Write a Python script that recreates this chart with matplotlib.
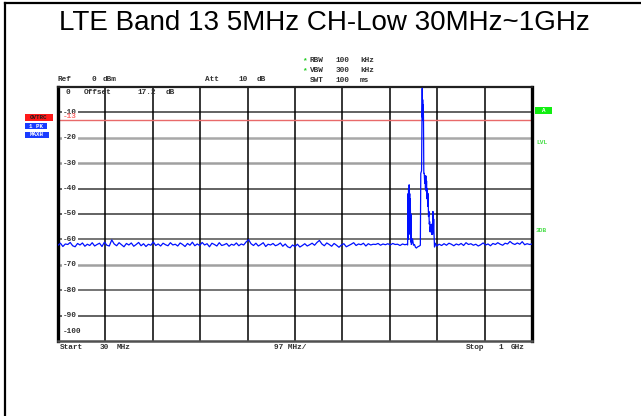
import numpy as np
import matplotlib
matplotlib.use('Agg')
import matplotlib.pyplot as plt
from matplotlib.lines import Line2D
from matplotlib.patches import Rectangle

W, H = 641, 416

title = 'LTE Band 13 5MHz CH-Low 30MHz~1GHz'
f_start, f_stop = 30, 1000          # MHz
ref_level, range_db = 0, -100       # dBm
display_line = -13                  # dBm (red limit line)
db_ticks = [-10, -20, -30, -40, -50, -60, -70, -80, -90]

# noise floor below the emission, 30..740 MHz, 5 MHz per point
noise_lo_db = [
    -62.3, -61.5, -62.8, -61.8, -62.0, -61.2, -62.5, -62.9, -61.6, -62.2, -61.4, -62.7, -61.9, -62.4, -61.3,
    -62.6, -62.0, -61.5, -62.8, -61.1, -62.3, -62.6, -60.2, -61.8, -62.5, -61.3, -62.1, -62.9, -61.6, -62.2,
    -61.4, -62.7, -62.0, -61.2, -62.5, -61.7, -62.8, -61.9, -62.3, -61.0, -62.4, -61.8, -62.6, -61.5, -62.1,
    -62.5, -61.3, -62.2, -61.9, -62.6, -61.4, -62.0, -62.8, -61.6, -62.3, -61.1, -62.5, -61.8, -62.4, -61.2,
    -62.2, -61.7, -62.9, -61.5, -62.0, -62.6, -61.3, -62.4, -62.1, -61.6, -62.7, -61.9, -62.3, -61.4, -62.5,
    -61.8, -62.2, -61.0, -60.1, -61.7, -62.4, -61.5, -62.6, -62.0, -61.3, -62.8, -61.9, -62.2, -61.6, -62.5,
    -62.1, -61.4, -62.7, -61.8, -62.9, -63.3, -62.2, -62.8, -61.9, -63.0, -62.4, -61.7, -62.6, -62.1, -61.5,
    -62.3, -61.2, -60.4, -61.8, -62.5, -61.4, -62.0, -62.7, -61.6, -62.3, -63.1, -62.2, -61.7, -62.9, -62.4,
    -61.9, -61.3, -62.4, -61.8, -62.1, -61.5, -62.6, -61.7, -62.2, -61.9, -62.0, -61.6, -62.3, -61.8, -62.1,
    -61.7, -62.2, -61.6, -62.0, -61.9, -62.4, -61.8, -62.1,
]
noise_lo_start, noise_lo_stop = 30, 740

# noise floor above the emission, 805..1000 MHz
noise_hi_db = [
    -62.6, -61.9, -62.4, -61.7, -62.3, -61.5, -61.9, -62.5, -61.8, -62.2,
    -61.6, -62.4, -61.3, -62.0, -61.7, -62.3, -61.9, -62.6, -62.1, -61.4,
    -62.2, -61.8, -62.5, -61.6, -62.0, -61.3, -61.9, -62.3, -61.5, -61.8,
    -60.8, -61.6, -62.0, -61.4, -61.9, -60.9, -62.1, -61.7, -62.0, -61.8,
]
noise_hi_start, noise_hi_stop = 805, 1000

# emission region, read point by point
peak_mhz = [743.5, 745.5, 746.4, 746.9, 747.4, 748.0, 748.6, 749.2, 749.8, 750.4,
            751.0, 751.6, 752.4, 753.0, 754.0, 755.5, 757.5, 759.5, 761.5, 763.5,
            765.5, 767.5, 769.5, 771.5, 772.4, 774.0, 775.3, 775.8, 776.3, 776.8,
            777.3, 777.9, 778.6, 779.5, 780.5, 781.3, 782.0, 782.8, 783.5, 784.2,
            785.0, 785.8, 786.6, 787.4, 788.2, 789.0, 789.8, 790.6, 791.4, 792.2,
            793.0, 793.8, 794.6, 795.5, 796.5, 797.3, 798.0, 798.8, 799.5, 800.5,
            802.0]
peak_db = [-61.9, -62.2, -42.0, -60.0, -40.0, -56.0, -38.5, -45.0, -42.0, -58.0,
           -44.0, -61.0, -50.0, -62.0, -61.5, -59.8, -62.3, -62.0, -63.1, -63.4,
           -63.0, -62.8, -62.6, -62.3, -34.0, -33.0, -0.5, -12.0, -5.0, -13.0,
           -7.0, -12.0, -34.0, -34.0, -38.0, -35.0, -40.0, -35.0, -41.0, -37.0,
           -44.0, -40.0, -47.0, -42.0, -51.0, -49.0, -54.0, -53.0, -57.0, -55.0,
           -57.0, -54.0, -58.0, -56.0, -58.0, -49.0, -57.0, -52.0, -58.0, -63.0,
           -61.5]

# ---- build trace ----
f_lo = np.linspace(noise_lo_start, noise_lo_stop, len(noise_lo_db))
f_hi = np.linspace(noise_hi_start, noise_hi_stop, len(noise_hi_db))
freq = np.concatenate([f_lo, peak_mhz, f_hi])
level = np.concatenate([noise_lo_db, peak_db, noise_hi_db])

fig = plt.figure(figsize=(W / 100, H / 100), dpi=100)
fig.patch.set_facecolor('white')

# plot area in pixels
x0, y0, x1, y1 = 58, 87, 532, 341
ax = fig.add_axes([x0 / W, 1 - y1 / H, (x1 - x0) / W, (y1 - y0) / H])
ax.set_xlim(f_start, f_stop)
ax.set_ylim(range_db, ref_level)
ax.set_xticks([])
ax.set_yticks([])

# grid
hcols = ['#383838', '#a8a8a8', '#a0a0a0', '#383838', '#383838',
         '#505050', '#a0a0a0', '#505050', '#383838']
hwid = [1.1, 1.8, 1.8, 1.1, 1.1, 1.1, 1.8, 1.1, 1.1]
for v, c, lw in zip(db_ticks, hcols, hwid):
    ax.axhline(v, color=c, lw=lw, zorder=1)
step = (f_stop - f_start) / 10
for i in range(1, 10):
    ax.axvline(f_start + i * step, color='black', lw=1.1, zorder=1)

ax.axhline(display_line, color='#e86a6a', lw=1.0, zorder=2)

ax.plot(freq, level, color='#0010ff', lw=0.9, zorder=4)

for s in ['left', 'right']:
    ax.spines[s].set_linewidth(2.4)
    ax.spines[s].set_color('black')
ax.spines['top'].set_linewidth(1.6)
ax.spines['top'].set_color('#202020')
ax.spines['bottom'].set_linewidth(1.8)
ax.spines['bottom'].set_color('#505050')

mono = dict(family='Liberation Mono', fontweight='bold', fontsize=5.6)

# level labels inside the grid
for v in db_ticks:
    ax.text(f_start + 10, v, str(v), color='#303030', va='center', ha='left',
            zorder=3, bbox=dict(facecolor='white', edgecolor='none', pad=0.6), **mono)
ax.text(f_start + 10, -11.6, '-13', color='#ff6b6b', va='center', ha='left', zorder=3, **mono)
ax.text(f_start + 10, -96.2, '-100', color='#303030', va='center', ha='left', zorder=3, **mono)


def ptext(x, y, s, color='#303030', **kw):
    opts = dict(mono)
    opts.update(kw)
    fig.text(x / W, 1 - y / H, s, color=color, va='center', ha='left', **opts)


def badge(xa, ya, xb, yb, s, face, color):
    fig.add_artist(Rectangle((xa / W, 1 - yb / H), (xb - xa) / W, (yb - ya) / H,
                             facecolor=face, edgecolor='none'))
    fig.text((xa + xb) / 2 / W, 1 - (ya + yb) / 2 / H, s, color=color, ha='center',
             va='center', family='Liberation Mono', fontweight='bold', fontsize=4.2)


# header texts
ptext(66, 93, '0')
ptext(84, 93, 'Offset')
ptext(138, 93, '17.2')
ptext(166, 93, 'dB')
ptext(58, 79.5, 'Ref')
ptext(92, 79.5, '0')
ptext(103, 79.5, 'dBm')
ptext(205, 79.5, 'Att')
ptext(239, 79.5, '10')
ptext(257, 79.5, 'dB')
ptext(302, 61, '*', color='#22cc22')
ptext(302, 70.5, '*', color='#22cc22')
ptext(310, 61, 'RBW')
ptext(310, 70.5, 'VBW')
ptext(310, 80, 'SWT')
ptext(336, 61, '100')
ptext(336, 70.5, '300')
ptext(336, 80, '100')
ptext(360, 61, 'kHz')
ptext(360, 70.5, 'kHz')
ptext(360, 80, 'ms')

# bottom texts
ptext(60, 347.5, 'Start')
ptext(100, 347.5, '30')
ptext(117, 347.5, 'MHz')
ptext(274, 347.5, '97 MHz/')
ptext(466, 347.5, 'Stop')
ptext(499, 347.5, '1')
ptext(511, 347.5, 'GHz')

# side indicators
badge(25, 114, 53, 121, 'OVTRC', '#ff1a1a', '#202020')
badge(25, 123, 47, 129, '1 PK', '#1a3cff', 'white')
badge(25, 131.5, 49, 138, 'MAXH', '#1a3cff', 'white')
badge(535, 107, 552, 114, 'A', '#11ee11', 'white')
ptext(536, 142.5, 'LVL', color='#44dd44', fontsize=4.5)
ptext(536, 230.5, '3DB', color='#44dd44', fontsize=4.5)

# title and frame
fig.text(324 / W, 1 - 23.5 / H, title, family='Liberation Sans', fontsize=20,
         ha='center', va='center', color='black')
fig.add_artist(Line2D([5 / W, 5 / W], [0, 1 - 2.5 / H], color='black', lw=1.6))
fig.add_artist(Line2D([5 / W, 1], [1 - 2.5 / H, 1 - 2.5 / H], color='black', lw=1.6))

fig.savefig('out.png', dpi=100)
